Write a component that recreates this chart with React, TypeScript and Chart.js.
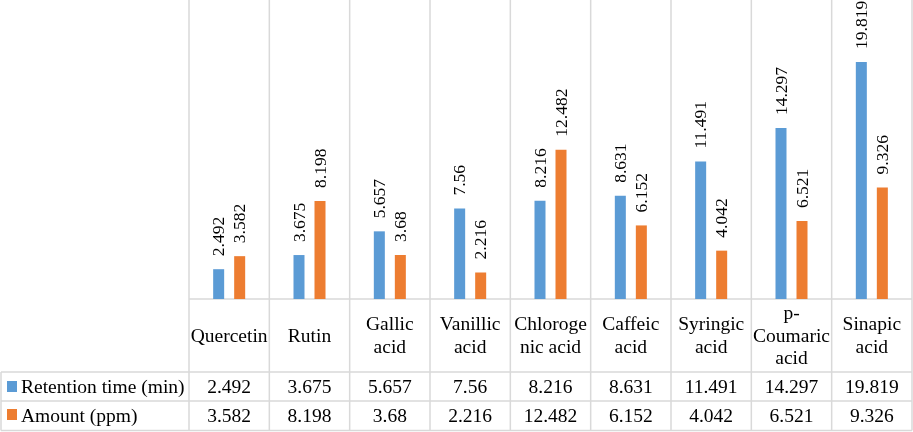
import { useEffect, useRef } from "react";
import { Chart, registerables } from "chart.js";
import type { Plugin } from "chart.js";

Chart.register(...registerables);

// categories (with the wrapped lines as shown in the table header)
const categories = [
  "Quercetin",
  "Rutin",
  "Gallic acid",
  "Vanillic acid",
  "Chlorogenic acid",
  "Caffeic acid",
  "Syringic acid",
  "p-Coumaric acid",
  "Sinapic acid",
];
const categoryLines = [
  ["Quercetin"],
  ["Rutin"],
  ["Gallic", "acid"],
  ["Vanillic", "acid"],
  ["Chloroge", "nic acid"],
  ["Caffeic", "acid"],
  ["Syringic", "acid"],
  ["p-", "Coumaric", "acid"],
  ["Sinapic", "acid"],
];

const retentionTime = [2.492, 3.675, 5.657, 7.56, 8.216, 8.631, 11.491, 14.297, 19.819];
const amount = [3.582, 8.198, 3.68, 2.216, 12.482, 6.152, 4.042, 6.521, 9.326];
const retentionLabels = ["2.492", "3.675", "5.657", "7.56", "8.216", "8.631", "11.491", "14.297", "19.819"];
const amountLabels = ["3.582", "8.198", "3.68", "2.216", "12.482", "6.152", "4.042", "6.521", "9.326"];

const BLUE = "#5B9BD5";
const ORANGE = "#ED7D31";
const GRID = "#d9d9d9";
const FONT = "'Liberation Serif', 'Times New Roman', serif";

// rotated value labels above each bar
const barLabels: Plugin<"bar"> = {
  id: "barLabels",
  afterDatasetsDraw(chart) {
    const ctx = chart.ctx;
    const texts = [retentionLabels, amountLabels];
    ctx.save();
    ctx.fillStyle = "#000";
    ctx.font = `17.5px ${FONT}`;
    ctx.textAlign = "left";
    ctx.textBaseline = "middle";
    chart.data.datasets.forEach((_, di) => {
      chart.getDatasetMeta(di).data.forEach((bar, i) => {
        ctx.save();
        ctx.translate(bar.x, bar.y - 13);
        ctx.rotate(-Math.PI / 2);
        ctx.fillText(texts[di][i], 0, 1);
        ctx.restore();
      });
    });
    ctx.restore();
  },
};

// gridlines + data table under the plot
const dataTable: Plugin<"bar"> = {
  id: "dataTable",
  beforeDatasetsDraw(chart) {
    const { ctx, chartArea } = chart;
    const x = chart.scales.x;
    const n = categories.length;
    const step = (chartArea.right - chartArea.left) / n;
    const catTop = chartArea.bottom;
    const row1 = 372;
    const row2 = 401;
    const bottom = 430.5;

    ctx.save();
    ctx.strokeStyle = GRID;
    ctx.lineWidth = 1.5;
    ctx.beginPath();
    for (let i = 0; i <= n; i++) {
      const px = x.getPixelForValue(i) - step / 2;
      ctx.moveTo(px, 0);
      ctx.lineTo(px, bottom);
    }
    ctx.moveTo(chartArea.left, catTop);
    ctx.lineTo(chartArea.right, catTop);
    [row1, row2, bottom].forEach((y) => {
      ctx.moveTo(1, y);
      ctx.lineTo(chartArea.right, y);
    });
    ctx.moveTo(1, row1);
    ctx.lineTo(1, bottom);
    ctx.stroke();

    ctx.fillStyle = "#000";
    ctx.font = `19.5px ${FONT}`;
    ctx.textAlign = "center";
    ctx.textBaseline = "middle";
    const lh = 22.5;
    categoryLines.forEach((lines, i) => {
      const cx = x.getPixelForValue(i);
      const cy = (catTop + row1) / 2 + 1;
      lines.forEach((t, k) => {
        ctx.fillText(t, cx, cy + (k - (lines.length - 1) / 2) * lh);
      });
      ctx.fillText(retentionLabels[i], cx, (row1 + row2) / 2 + 1);
      ctx.fillText(amountLabels[i], cx, (row2 + bottom) / 2 + 1);
    });

    ctx.textAlign = "left";
    ctx.fillStyle = BLUE;
    ctx.fillRect(7, 381, 10, 11);
    ctx.fillStyle = ORANGE;
    ctx.fillRect(7, 409, 10, 11);
    ctx.fillStyle = "#000";
    ctx.fillText("Retention time (min)", 21, (row1 + row2) / 2 + 1);
    ctx.fillText("Amount (ppm)", 21, (row2 + bottom) / 2 + 1);
    ctx.restore();
  },
};

export default function App() {
  const canvasRef = useRef<HTMLCanvasElement | null>(null);

  useEffect(() => {
    if (!canvasRef.current) return;
    const chart = new Chart(canvasRef.current, {
      type: "bar",
      data: {
        labels: categories,
        datasets: [
          {
            label: "Retention time (min)",
            data: retentionTime,
            backgroundColor: BLUE,
            categoryPercentage: 0.523,
            barPercentage: 0.524,
          },
          {
            label: "Amount (ppm)",
            data: amount,
            backgroundColor: ORANGE,
            categoryPercentage: 0.523,
            barPercentage: 0.524,
          },
        ],
      },
      options: {
        responsive: true,
        maintainAspectRatio: false,
        animation: false,
        layout: { padding: { left: 189, right: 1, top: 0, bottom: 133 } },
        plugins: {
          legend: { display: false },
          tooltip: { enabled: false },
        },
        scales: {
          x: { display: false },
          y: { display: false, min: 0, max: 25 },
        },
      },
      plugins: [dataTable, barLabels],
    });
    return () => chart.destroy();
  }, []);

  return (
    <div style={{ position: "fixed", inset: 0, width: 913, height: 432, background: "#fff" }}>
      <canvas ref={canvasRef} />
    </div>
  );
}
